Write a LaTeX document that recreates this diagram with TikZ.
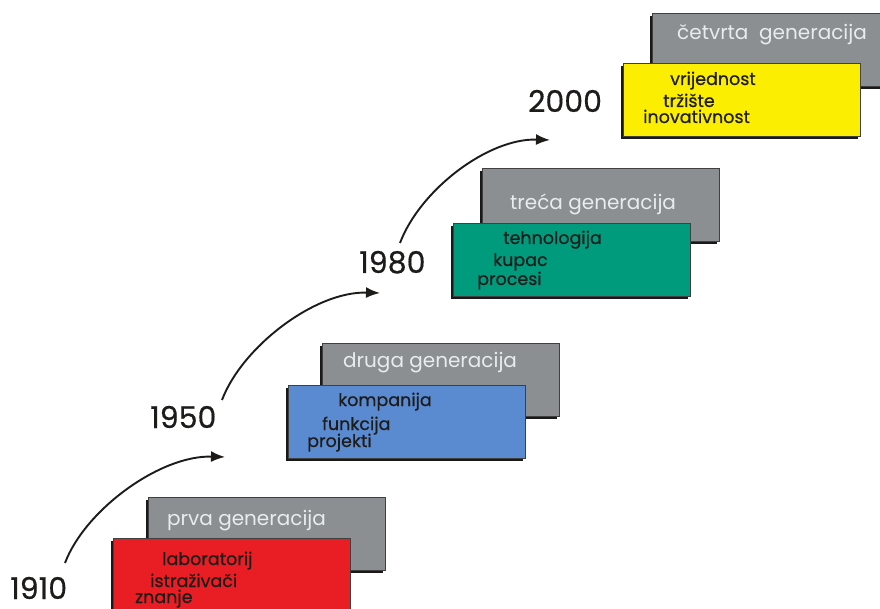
\documentclass[tikz,border=0pt]{standalone}
\usepackage{fontspec}
\setmainfont{Poppins}
\newfontfamily\inkfont{Poppins}[FakeBold=0.5]
\usetikzlibrary{shadows,arrows.meta}
\definecolor{panelGray}{RGB}{140,143,146}
\definecolor{titleWhite}{RGB}{232,236,238}
\definecolor{genRed}{RGB}{232,30,36}
\definecolor{genBlue}{RGB}{90,138,208}
\definecolor{genGreen}{RGB}{0,155,125}
\definecolor{genYellow}{RGB}{252,238,0}
\definecolor{ink}{RGB}{30,28,26}
\begin{document}
\begin{tikzpicture}[x=1pt,y=-1pt,
  panel/.style={draw=black!75, line width=0.6pt, anchor=north west,
    minimum width=237pt, minimum height=73pt, inner sep=0pt,
    drop shadow={shadow xshift=-2.5pt, shadow yshift=-2.5pt, opacity=0.9, fill=black}},
  title/.style={anchor=base west, text=titleWhite, inner sep=0pt,
    font=\fontsize{20}{20}\selectfont},
  item/.style={anchor=base west, text=ink, inner sep=0pt,
    font=\inkfont\fontsize{17.5}{17.5}\selectfont},
  year/.style={anchor=base west, text=ink, inner sep=0pt,
    font=\inkfont\fontsize{30}{30}\selectfont},
  timeline/.style={line width=1.9pt, draw=ink, -{Latex[length=14pt,width=11pt]}}
]
\useasboundingbox (0,0) rectangle (880,609);
\clip (0,0) rectangle (880,609);
\fill[white] (0,0) rectangle (880,609);

% grey generation panels (behind)
\node[panel, fill=panelGray] (g1) at (148,497) {};
\node[panel, fill=panelGray] (g2) at (322,343) {};
\node[panel, fill=panelGray] (g3) at (482,168) {};
\node[panel, fill=panelGray] (g4) at (652,13) {};

% coloured panels (front)
\node[panel, fill=genRed]    (c1) at (113,538) {};
\node[panel, fill=genBlue]   (c2) at (288,385) {};
\node[panel, fill=genGreen]  (c3) at (453,223) {};
\node[panel, fill=genYellow] (c4) at (623,63) {};

% panel titles
\node[title] (t1) at (167,525) {prva generacija};
\node[title] (t2) at (343,367) {druga generacija};
\node[title] (t3) at (510,210) {treća generacija};
\node[title] (t4) at (677,40)  {četvrta\ \ generacija};

% panel contents
\node[item] (r1) at (162,565) {laboratorij};
\node[item] (r2) at (150,587) {istraživači};
\node[item] (r3) at (135,603) {znanje};

\node[item] (b1) at (338,406) {kompanija};
\node[item] (b2) at (322,430) {funkcija};
\node[item] (b3) at (307,447) {projekti};

\node[item] (e1) at (503,244) {tehnologija};
\node[item] (e2) at (493,266) {kupac};
\node[item] (e3) at (477,285) {procesi};

\node[item] (v1) at (670,85)  {vrijednost};
\node[item] (v2) at (663,107) {tržište};
\node[item] (v3) at (643,123) {inovativnost};

% years
\node[year] (y1) at (10,599)  {1910};
\node[year] (y2) at (150,428) {1950};
\node[year] (y3) at (359,273) {1980};
\node[year] (y4) at (528,112) {2000};

% timeline arrows
\coordinate (s1) at (65,563);  \coordinate (f1) at (225,457);
\coordinate (s2) at (222,400); \coordinate (f2) at (380,293);
\coordinate (s3) at (400,243); \coordinate (f3) at (550,140);
\draw[timeline] (s1) .. controls +(20,-53) and +(-65,-2) .. (f1);
\draw[timeline] (s2) .. controls +(20,-53) and +(-65,-2) .. (f2);
\draw[timeline] (s3) .. controls +(20,-53) and +(-62,-2) .. (f3);
\end{tikzpicture}
\end{document}
